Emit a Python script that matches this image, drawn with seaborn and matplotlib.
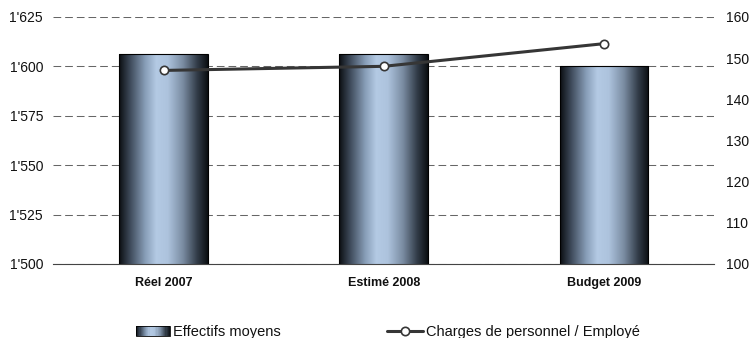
import numpy as np
import pandas as pd
import matplotlib
matplotlib.use("Agg")
import matplotlib.pyplot as plt
import seaborn as sns
from matplotlib.colors import LinearSegmentedColormap
from matplotlib.patches import Rectangle
from matplotlib.lines import Line2D
from matplotlib.legend_handler import HandlerBase
from matplotlib.ticker import FuncFormatter, MultipleLocator

categories = ["Réel 2007", "Estimé 2008", "Budget 2009"]
effectifs = [1606, 1606, 1600]
charges = [147, 148, 153.5]
series_names = ["Effectifs moyens", "Charges de personnel / Employé"]

sns.set_theme(style="white")
plt.rcParams["font.family"] = ["Liberation Sans", "DejaVu Sans"]

grad = LinearSegmentedColormap.from_list(
    "bargrad",
    [(0.0, "#0b0e12"), (0.12, "#3c4858"), (0.3, "#8aa0ba"), (0.42, "#b4cae4"),
     (0.55, "#adc3dd"), (0.72, "#7a8ca2"), (0.88, "#323c48"), (1.0, "#0b0e12")])

fig = plt.figure(figsize=(7.5, 3.38), dpi=100)
ax = fig.add_axes([0.0713, 0.219, 0.8807, 0.731])

df = pd.DataFrame({"cat": categories, "val": effectifs})
sns.barplot(data=df, x="cat", y="val", ax=ax, width=0.403,
            facecolor="none", edgecolor="black", linewidth=0.8, zorder=3)

ax.set_ylim(1500, 1625)
ybot = ax.get_ylim()[0]
img = np.linspace(0, 1, 256).reshape(1, -1)
for p in ax.patches:
    x0 = p.get_x(); w = p.get_width(); h = p.get_height()
    ax.imshow(img, cmap=grad, aspect="auto", extent=[x0, x0 + w, ybot, h],
              zorder=2, interpolation="bilinear")
ax.set_xlim(-0.5, len(categories) - 0.5)
ax.set_ylim(1500, 1625)

ax.yaxis.set_major_locator(MultipleLocator(25))
ax.yaxis.set_major_formatter(FuncFormatter(lambda v, p: f"{int(v)//1000}'{int(v)%1000:03d}"))
ax.grid(axis="y", linestyle=(0, (7.4, 3.8)), color="#666666", linewidth=0.75)
ax.set_axisbelow(True)
for s in ["left", "right", "top"]:
    ax.spines[s].set_visible(False)
ax.spines["bottom"].set_color("#444444")
ax.spines["bottom"].set_linewidth(0.8)
ax.set_xlabel(""); ax.set_ylabel("")
ax.set_xticks([-0.5, 0.5, 1.5, 2.5], minor=False)
ax.set_xticklabels([])
ax.set_xticks(range(len(categories)), minor=True)
ax.set_xticklabels(categories, minor=True, fontsize=9, fontweight="bold", color="#111111")
ax.tick_params(axis="x", which="major", direction="inout", length=6, width=0.8, color="#444444")
ax.tick_params(axis="x", which="minor", length=0, pad=9.5)
ax.tick_params(axis="y", length=0, labelsize=10, pad=7.5, colors="#111111")

ax2 = ax.twinx()
sns.lineplot(x=categories, y=charges, ax=ax2, sort=False, color="#363636",
             linewidth=2.2, marker="o", markersize=6, markerfacecolor="white",
             markeredgecolor="#363636", markeredgewidth=1.2, zorder=5)
ax2.set_ylim(100, 160)
ax2.yaxis.set_major_locator(MultipleLocator(10))
for s in ["left", "right", "top", "bottom"]:
    ax2.spines[s].set_visible(False)
ax2.tick_params(axis="y", length=0, labelsize=10, pad=8.6, colors="#111111")
ax2.set_ylabel("")
ax2.grid(False)


class GradHandler(HandlerBase):
    def create_artists(self, legend, orig_handle, xdescent, ydescent, width, height, fontsize, trans):
        arts = []
        n = 30
        for i in range(n):
            r = Rectangle((-xdescent + width * i / n, -ydescent), width / n + 0.3, height,
                          facecolor=grad((i + 0.5) / n), edgecolor="none", transform=trans)
            arts.append(r)
        arts.append(Rectangle((-xdescent, -ydescent), width, height, facecolor="none",
                              edgecolor="black", linewidth=0.6, transform=trans))
        return arts


bar_handle = Rectangle((0, 0), 1, 1)
line_handle = Line2D([], [], color="#363636", linewidth=2.2, marker="o", markersize=6,
                     markerfacecolor="white", markeredgecolor="#363636", markeredgewidth=1.2)
common = dict(frameon=False, fontsize=10.5, handletextpad=0.2, borderpad=0,
              borderaxespad=0, loc="center left", labelcolor="#111111")
fig.legend([bar_handle], series_names[:1], handler_map={Rectangle: GradHandler()},
           bbox_to_anchor=(136 / 750, 6 / 338), handlelength=2.33, **common)
fig.legend([line_handle], series_names[1:],
           bbox_to_anchor=(387 / 750, 6 / 338), handlelength=2.45, **common)

fig.savefig("out.png", dpi=100)
